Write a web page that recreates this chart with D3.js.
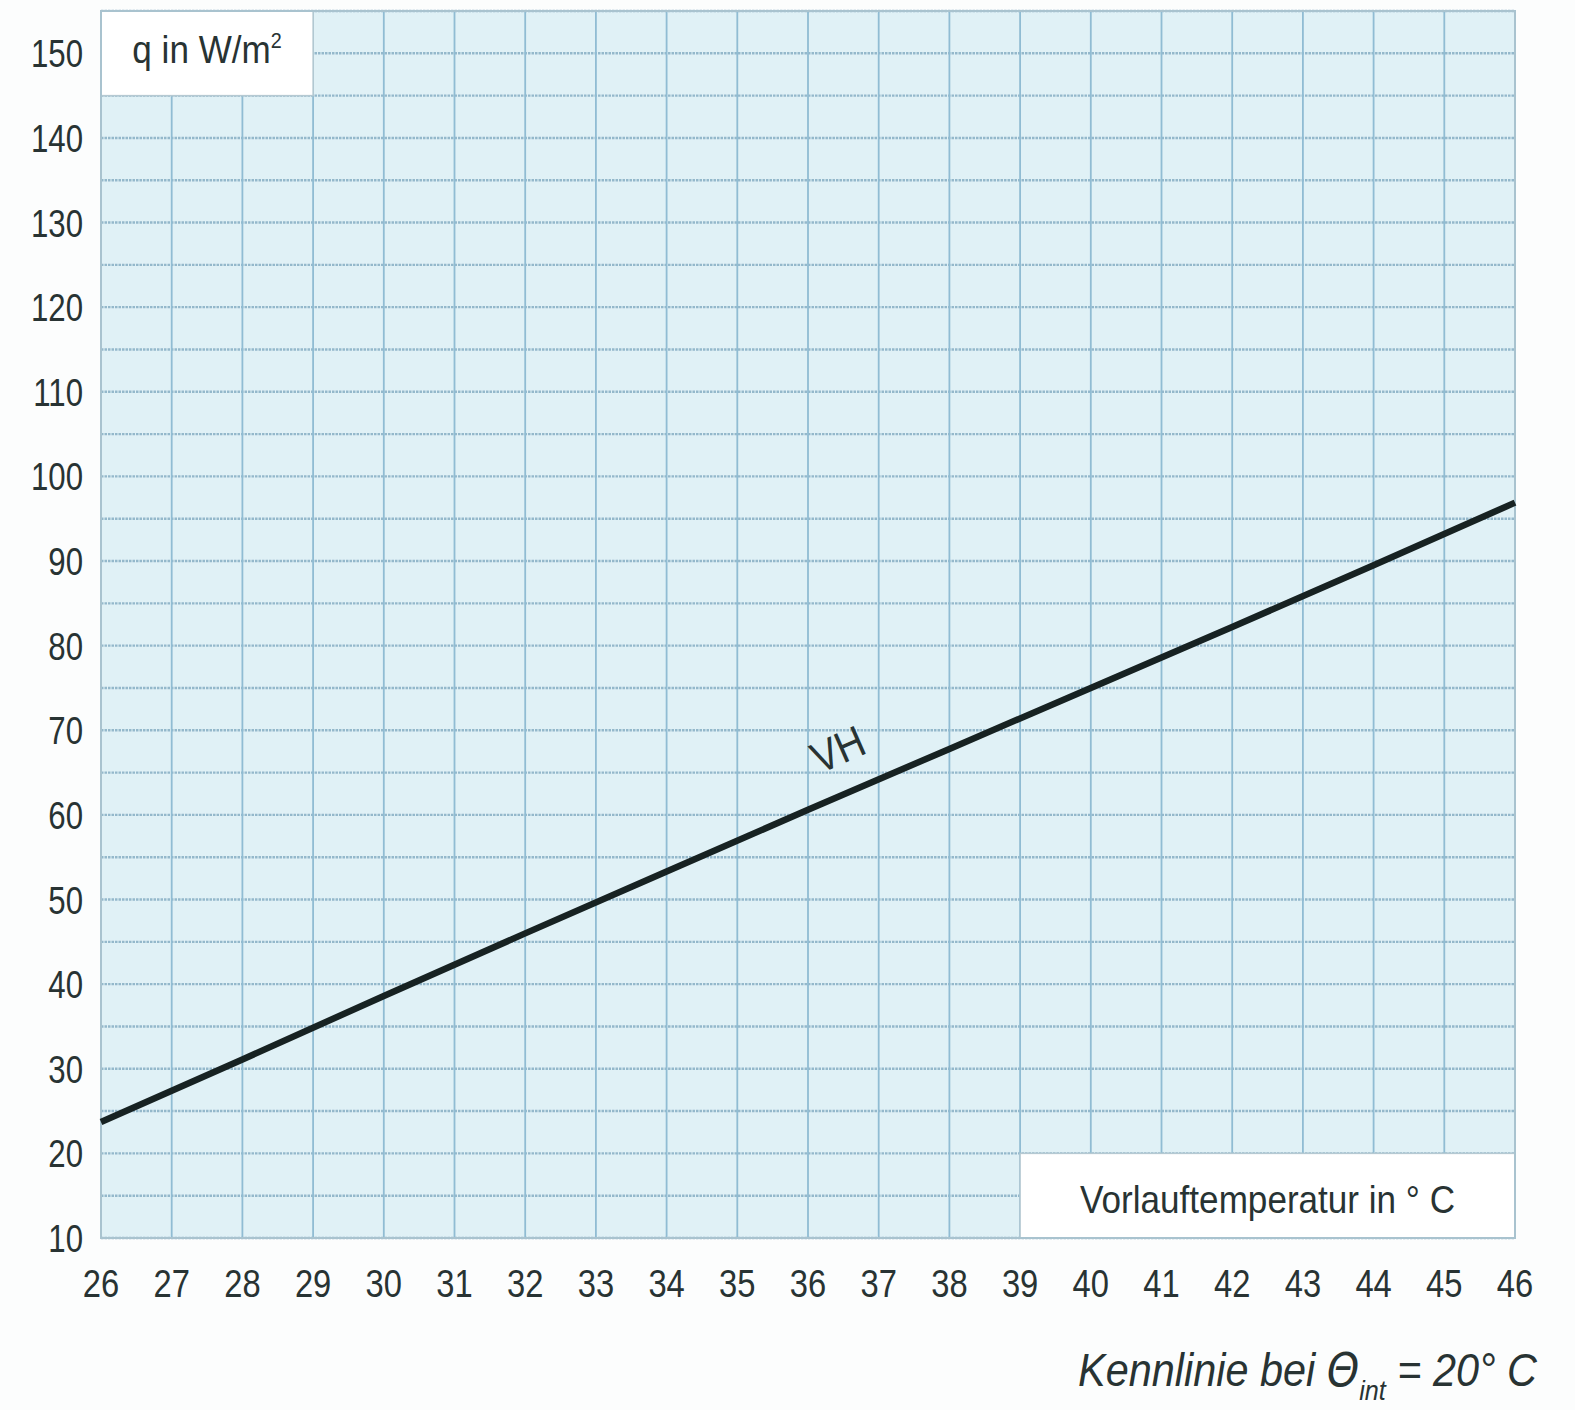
<html>
  <meta charset="utf-8" />
  <script src="https://d3js.org/d3.v7.min.js"></script>
  <style>
    body { margin: 0; background: #fcfdfd; }
    text { font-family: "Liberation Sans", Arial, sans-serif; fill: #283333; }
  </style>
  <body>
    <svg id="chart" width="1575" height="1410"></svg>
    <script>
      // tick labels
      const xTicks = [26, 27, 28, 29, 30, 31, 32, 33, 34, 35, 36, 37, 38, 39, 40, 41, 42, 43, 44, 45, 46];
      const yTicks = [10, 20, 30, 40, 50, 60, 70, 80, 90, 100, 110, 120, 130, 140, 150];

      // VH curve
      const temps = [26, 28, 30, 32, 34, 36, 38, 40, 42, 44, 46];
      const qValues = [23.7, 31.1, 38.6, 46.0, 53.3, 60.6, 67.8, 75.0, 82.2, 89.5, 96.9];

      const svg = d3.select("#chart");

      const xScale = d3.scaleLinear().domain([26, 46]).range([101, 1515]);
      const yScale = d3.scaleLinear().domain([10, 155]).range([1238, 11]);

      // the print uses a condensed face, so squeeze a normal one
      function label(x, y, str, size, anchor, squeeze) {
        return svg
          .append("text")
          .attr("transform", `translate(${x}, ${y}) scale(${squeeze}, 1)`)
          .attr("text-anchor", anchor)
          .attr("font-size", size)
          .text(str);
      }

      const plot = svg.append("g");

      // paper background
      plot
        .append("rect")
        .attr("x", xScale(26))
        .attr("y", yScale(155))
        .attr("width", xScale(46) - xScale(26))
        .attr("height", yScale(10) - yScale(155))
        .attr("fill", "#e0f1f6");

      // horizontal grid every 5
      const hLines = d3.range(10, 156, 5);
      plot
        .selectAll(".hgrid")
        .data(hLines)
        .enter()
        .append("line")
        .attr("class", "hgrid")
        .attr("x1", xScale(26))
        .attr("x2", xScale(46))
        .attr("y1", (d) => yScale(d))
        .attr("y2", (d) => yScale(d))
        .attr("stroke", "#94b8cb")
        .attr("stroke-width", 2.4)
        .attr("stroke-dasharray", "2.5,1");

      // vertical grid every 1
      plot
        .selectAll(".vgrid")
        .data(xTicks)
        .enter()
        .append("line")
        .attr("class", "vgrid")
        .attr("x1", (d) => xScale(d))
        .attr("x2", (d) => xScale(d))
        .attr("y1", yScale(155))
        .attr("y2", yScale(10))
        .attr("stroke", "#90bcd3")
        .attr("stroke-width", 1.8);

      // white label boxes
      plot
        .append("rect")
        .attr("x", xScale(26))
        .attr("y", yScale(155))
        .attr("width", xScale(29) - xScale(26))
        .attr("height", yScale(145) - yScale(155))
        .attr("fill", "#ffffff")
        .attr("stroke", "#b5c9d2")
        .attr("stroke-width", 1.5);

      plot
        .append("rect")
        .attr("x", xScale(39))
        .attr("y", yScale(20))
        .attr("width", xScale(46) - xScale(39))
        .attr("height", yScale(10) - yScale(20))
        .attr("fill", "#ffffff")
        .attr("stroke", "#b5c9d2")
        .attr("stroke-width", 1.5);

      // outer frame
      plot
        .append("rect")
        .attr("x", xScale(26))
        .attr("y", yScale(155))
        .attr("width", xScale(46) - xScale(26))
        .attr("height", yScale(10) - yScale(155))
        .attr("fill", "none")
        .attr("stroke", "#a9c3cf")
        .attr("stroke-width", 2);

      // the characteristic line
      const line = d3
        .line()
        .x((d, i) => xScale(temps[i]))
        .y((d) => yScale(d));

      plot
        .append("path")
        .datum(qValues)
        .attr("d", line)
        .attr("fill", "none")
        .attr("stroke", "#172222")
        .attr("stroke-width", 6.5);

      // VH label along the line
      const ang =
        (Math.atan2(
          yScale(qValues[0]) - yScale(qValues[qValues.length - 1]),
          xScale(46) - xScale(26)
        ) * 180) / Math.PI;
      svg
        .append("text")
        .attr("transform", `translate(${xScale(36.42)}, ${yScale(67.8)}) rotate(${-ang}) scale(0.88, 1)`)
        .attr("text-anchor", "middle")
        .attr("dy", "0.36em")
        .attr("font-size", 44)
        .text("VH");

      // tick labels
      yTicks.forEach((d) => {
        label(83, yScale(d) + 14, d, 39, "end", 0.8);
      });
      xTicks.forEach((d) => {
        label(xScale(d), 1297, d, 39, "middle", 0.84);
      });

      // axis titles inside the white boxes
      const q = label((xScale(26) + xScale(29)) / 2, 63, "q in W/m", 39, "middle", 0.9);
      q.append("tspan").attr("font-size", 22).attr("dy", -15).text("2");

      label((xScale(39) + xScale(46)) / 2, 1213, "Vorlauftemperatur in ° C", 39, "middle", 0.9);

      const note = label(1537, 1386, "", 46, "end", 0.9).attr("font-style", "italic");
      note.append("tspan").text("Kennlinie bei ");
      note.append("tspan").attr("font-family", "DejaVu Sans ExtraLight, DejaVu Sans").attr("font-weight", 200).text("Θ");
      note.append("tspan").attr("font-size", 28).attr("dy", 14).text("int");
      note.append("tspan").attr("dy", -14).text(" = 20° C");
    </script>
  </body>
</html>
